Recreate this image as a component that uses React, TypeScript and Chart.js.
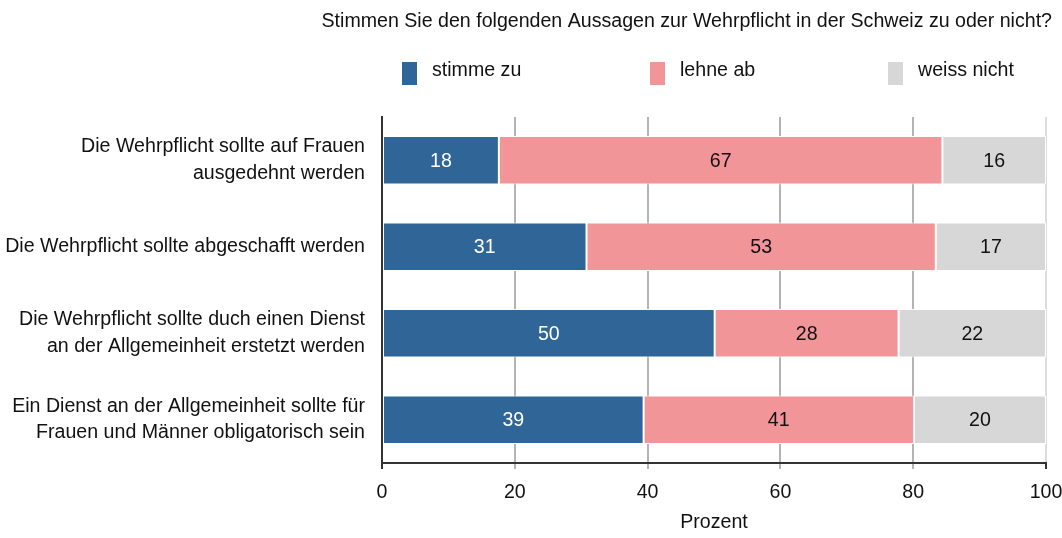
import React, { useEffect, useRef } from "react";
import { Chart, registerables } from "chart.js";

Chart.register(...registerables);

const TITLE = "Stimmen Sie den folgenden Aussagen zur Wehrpflicht in der Schweiz zu oder nicht?";
const categories: string[][] = [
  ["Die Wehrpflicht sollte auf Frauen", "ausgedehnt werden"],
  ["Die Wehrpflicht sollte abgeschafft werden"],
  ["Die Wehrpflicht sollte duch einen Dienst", "an der Allgemeinheit erstetzt werden"],
  ["Ein Dienst an der Allgemeinheit sollte für", "Frauen und Männer obligatorisch sein"],
];
const seriesNames = ["stimme zu", "lehne ab", "weiss nicht"];
const stimmeZu = [17.6, 30.8, 50.1, 39.4];
const lehneAb = [66.8, 52.6, 27.7, 40.7];
const weissNicht = [15.6, 16.6, 22.2, 19.9];
const xTicks = [0, 20, 40, 60, 80, 100];
const colors = ["#2f6597", "#f19598", "#d7d7d7"];
const labelColors = ["#ffffff", "#111111", "#111111"];

const FONT = "'Liberation Sans', Arial, sans-serif";
const FS = 19.6;

export default function App() {
  const ref = useRef<HTMLCanvasElement | null>(null);
  useEffect(() => {
    if (!ref.current) return;
    const overlay = {
      id: "overlay",
      afterDraw(chart: any) {
        const ctx = chart.ctx;
        ctx.save();
        ctx.fillStyle = "#111";
        ctx.font = `${FS}px ${FONT}`;
        ctx.textAlign = "right";
        ctx.textBaseline = "middle";
        ctx.fillText(TITLE, 1052, 22);
        const legendX = [402, 650, 888];
        seriesNames.forEach((name, i) => {
          ctx.fillStyle = colors[i];
          ctx.fillRect(legendX[i], 62, 15, 23);
          ctx.fillStyle = "#111";
          ctx.textAlign = "left";
          ctx.fillText(name, legendX[i] + 30, 71);
        });
        ctx.restore();
      },
      afterDatasetsDraw(chart: any) {
        const ctx = chart.ctx;
        ctx.save();
        ctx.font = `${FS}px ${FONT}`;
        ctx.textAlign = "center";
        ctx.textBaseline = "middle";
        chart.data.datasets.forEach((ds: any, di: number) => {
          const meta = chart.getDatasetMeta(di);
          meta.data.forEach((el: any, i: number) => {
            const { x, base, y } = el.getProps(["x", "base", "y"], true);
            ctx.fillStyle = labelColors[di];
            ctx.fillText(String(Math.round(ds.data[i])), (x + base) / 2, y + 1);
          });
        });
        ctx.restore();
      },
    };
    const chart = new Chart(ref.current, {
      type: "bar",
      data: {
        labels: categories,
        datasets: [stimmeZu, lehneAb, weissNicht].map((d, i) => ({
          label: seriesNames[i],
          data: d,
          backgroundColor: colors[i],
          borderColor: "#ffffff",
          borderWidth: 1,
          borderSkipped: false,
          categoryPercentage: 1,
          barPercentage: 0.56,
        })),
      },
      options: {
        indexAxis: "y",
        animation: false,
        responsive: false,
        maintainAspectRatio: false,
        layout: { padding: { top: 117, right: 0, left: 0, bottom: 0 } },
        plugins: { legend: { display: false }, title: { display: false }, tooltip: { enabled: false } },
        scales: {
          x: {
            stacked: true,
            min: 0,
            max: 100,
            afterBuildTicks: (scale: any) => {
              scale.ticks = xTicks.map((v) => ({ value: v }));
            },
            afterFit: (scale: any) => {
              scale.height = 75;
              scale.paddingRight = 16;
            },
            ticks: { color: "#111", font: { family: FONT, size: FS }, padding: 12 },
            grid: {
              color: (c: any) => (c.tick && c.tick.value === 100 ? "#dddddd" : c.tick && c.tick.value === 0 ? "rgba(0,0,0,0)" : "#b4b4b4"),
              tickColor: (c: any) => (c.tick && (c.tick.value === 0 || c.tick.value === 100) ? "#333" : "#b4b4b4"),
              lineWidth: 2,
              tickLength: 6,
            },
            border: { display: true, color: "#333", width: 2 },
            title: { display: true, text: "Prozent", color: "#111", font: { family: FONT, size: FS }, padding: { top: 0, bottom: 4 } },
          },
          y: {
            stacked: true,
            afterFit: (scale: any) => {
              scale.width = 382;
            },
            ticks: { color: "#111", font: { family: FONT, size: FS, lineHeight: 1.35 }, padding: 17 },
            grid: { display: false, drawTicks: false },
            border: { display: true, color: "#333", width: 2 },
          },
        },
      },
      plugins: [overlay],
    } as any);
    return () => chart.destroy();
  }, []);
  return (
    <div style={{ position: "absolute", left: 0, top: 0, width: 1062, height: 538, background: "#fff" }}>
      <canvas ref={ref} width={1062} height={538} style={{ width: 1062, height: 538 }} />
    </div>
  );
}
